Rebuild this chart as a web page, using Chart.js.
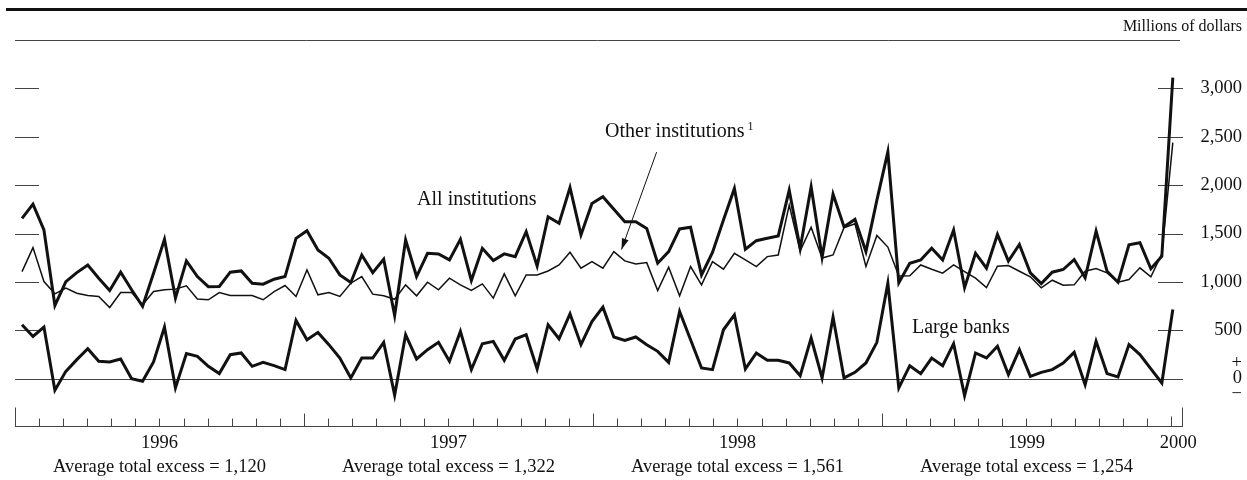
<!DOCTYPE html>
<html>
<head>
<meta charset="utf-8">
<script src="https://cdn.jsdelivr.net/npm/chart.js@4.4.1/dist/chart.umd.min.js"></script>
<style>
	html, body { margin: 0; padding: 0; background: #fff; }
</style>
</head>
<body>
<canvas id="chart" width="1247" height="480"></canvas>
<script>
'use strict'

// Excess reserve balances by two-week maintenance period, Jan 1996 - Jan 2000 (millions of dollars)
const allInstitutions = [
	1657, 1804, 1536, 756, 1003, 1096, 1175, 1038, 911, 1100,
	918, 746, 1090, 1440, 832, 1217, 1055, 950, 952, 1100,
	1113, 986, 976, 1028, 1055, 1450, 1529, 1330, 1244, 1072,
	993, 1278, 1096, 1234, 653, 1433, 1055, 1296, 1289, 1227,
	1440, 1014, 1347, 1220, 1289, 1261, 1519, 1165, 1673, 1605,
	1976, 1485, 1810, 1880, 1750, 1622, 1622, 1553, 1193, 1313,
	1547, 1564, 1072, 1305, 1640, 1966, 1337, 1426, 1450, 1475,
	1949, 1347, 1983, 1254, 1907, 1571, 1646, 1313, 1845, 2344,
	990, 1193, 1227, 1347, 1227, 1536, 941, 1296, 1141, 1490,
	1214, 1386, 1093, 983, 1100, 1128, 1231, 1042, 1524, 1110,
	996, 1383, 1404, 1135, 1265, 3111,
]
const otherInstitutions = [
	1106, 1354, 1003, 876, 935, 883, 859, 849, 735, 890,
	890, 763, 900, 918, 925, 959, 822, 815, 890, 859,
	859, 859, 815, 900, 962, 849, 1124, 866, 890, 849,
	986, 1055, 873, 856, 820, 969, 856, 997, 918, 1038,
	969, 911, 979, 832, 1083, 856, 1072, 1072, 1113, 1175,
	1306, 1141, 1210, 1141, 1313, 1217, 1186, 1199, 911, 1151,
	856, 1158, 969, 1210, 1131, 1296, 1227, 1158, 1261, 1278,
	1794, 1320, 1564, 1247, 1278, 1560, 1600, 1160, 1480, 1360,
	1060, 1062, 1175, 1131, 1090, 1175, 1106, 1038, 940, 1162,
	1169, 1110, 1052, 938, 1017, 965, 969, 1110, 1138, 1093,
	996, 1024, 1145, 1052, 1290, 2440,
]
const largeBanks = [
	557, 436, 533, -120, 75, 196, 309, 179, 172, 203,
	0, -27, 172, 533, -96, 258, 230, 127, 52, 247,
	265, 127, 168, 134, 93, 601, 402, 478, 351, 213,
	7, 213, 213, 375, -170, 454, 203, 299, 375, 179,
	488, 93, 361, 385, 189, 409, 454, 100, 557, 412,
	670, 351, 590, 739, 430, 395, 430, 351, 282, 168,
	694, 402, 110, 93, 505, 660, 100, 265, 189, 189,
	162, 31, 419, 7, 636, 7, 65, 162, 375, 986,
	-96, 134, 52, 213, 134, 361, -175, 265, 214, 334,
	41, 300, 24, 65, 93, 162, 272, -62, 386, 52,
	18, 352, 248, 100, -45, 714,
]

const valueTicks = [0, 500, 1000, 1500, 2000, 2500, 3000]
// year labels sit mid-year on a month axis starting Jan 1996
const yearTicks = [6, 18, 30, 42, 48.3]
const yearLabels = ['1996', '1997', '1998', '1999', '2000']
const yearAverages = ['1,120', '1,322', '1,561', '1,254']

const periods = allInstitutions.map((v, i) => i)
const FONT = '"Liberation Serif", "Times New Roman", serif'

function toPoints(values) {
	return values.map((v, i) => ({ x: periods[i], y: v }))
}

function line(ctx, x1, y1, x2, y2) {
	ctx.beginPath()
	ctx.moveTo(x1, y1)
	ctx.lineTo(x2, y2)
	ctx.stroke()
}

const framePlugin = {
	id: 'frame',
	beforeDatasetsDraw(chart) {
		const { ctx, chartArea: a, scales } = chart
		const y = scales.y
		const m = scales.months
		ctx.save()
		ctx.strokeStyle = '#111'
		ctx.lineWidth = 3
		line(ctx, 6, 9.5, chart.width, 9.5)

		ctx.lineWidth = 1
		ctx.strokeStyle = '#444'
		line(ctx, a.left, a.top + 0.5, a.right - 3, a.top + 0.5)

		const y0 = Math.round(y.getPixelForValue(0)) + 0.5
		line(ctx, a.left, y0, a.right, y0)

		valueTicks.filter(v => v > 0).forEach(v => {
			const py = Math.round(y.getPixelForValue(v)) + 0.5
			line(ctx, a.left, py, a.left + 24, py)
			line(ctx, a.right - 25, py, a.right, py)
		})

		// baseline with monthly ticks, taller at year starts
		const yb = Math.round(a.bottom) - 0.5
		line(ctx, a.left, yb, a.right, yb)
		for (let k = 0; k <= 48; k++) {
			const px = Math.round(m.getPixelForValue(k)) + 0.5
			let len = 8
			if (k === 0) len = 19
			else if (k === 48) len = 10
			else if (k % 12 === 0) len = 13
			line(ctx, px, yb, px, yb - len)
		}
		const pe = Math.round(a.right) - 0.5
		line(ctx, pe, yb, pe, yb - 19)
		ctx.restore()
	},
	afterDatasetsDraw(chart) {
		const { ctx, scales } = chart
		const x = scales.x
		const y = scales.y
		ctx.save()
		ctx.fillStyle = '#111'
		ctx.strokeStyle = '#111'
		ctx.textBaseline = 'alphabetic'

		ctx.font = `20px ${FONT}`
		ctx.textAlign = 'center'
		ctx.fillText('All institutions', x.getPixelForValue(41.5), y.getPixelForValue(1790))

		ctx.textAlign = 'left'
		const ox = x.getPixelForValue(53.2)
		const oy = y.getPixelForValue(2496)
		ctx.fillText('Other institutions', ox, oy)
		const w = ctx.measureText('Other institutions').width
		ctx.fillText('Large banks', x.getPixelForValue(81.2), y.getPixelForValue(473))
		ctx.font = `12px ${FONT}`
		ctx.fillText('1', ox + w + 3, oy - 7)

		// pointer from the label down to the thin line
		const tx = x.getPixelForValue(57.9), ty = y.getPixelForValue(2341)
		const hx = x.getPixelForValue(54.7), hy = y.getPixelForValue(1335)
		ctx.lineWidth = 1
		line(ctx, tx, ty, hx, hy)
		const ang = Math.atan2(hy - ty, hx - tx)
		ctx.beginPath()
		ctx.moveTo(hx, hy)
		ctx.lineTo(hx - 11 * Math.cos(ang) + 3.5 * Math.sin(ang), hy - 11 * Math.sin(ang) - 3.5 * Math.cos(ang))
		ctx.lineTo(hx - 11 * Math.cos(ang) - 3.5 * Math.sin(ang), hy - 11 * Math.sin(ang) + 3.5 * Math.cos(ang))
		ctx.closePath()
		ctx.fill()

		ctx.font = `16px ${FONT}`
		ctx.textAlign = 'right'
		ctx.fillText('Millions of dollars', chart.width - 5, 31)
		ctx.restore()
	},
}

new Chart(document.getElementById('chart'), {
	type: 'line',
	data: {
		datasets: [
			{ label: 'All institutions', data: toPoints(allInstitutions), borderColor: '#111', borderWidth: 3 },
			{ label: 'Large banks', data: toPoints(largeBanks), borderColor: '#111', borderWidth: 3 },
			{ label: 'Other institutions', data: toPoints(otherInstitutions), borderColor: '#111', borderWidth: 1.5 },
		],
	},
	options: {
		responsive: false,
		animation: false,
		devicePixelRatio: 1,
		layout: { padding: { left: 15, right: 5, top: 40, bottom: 0 } },
		plugins: { legend: { display: false }, tooltip: { enabled: false } },
		elements: {
			point: { radius: 0 },
			line: { tension: 0, borderJoinStyle: 'miter', fill: false },
		},
		scales: {
			x: { type: 'linear', display: false, min: -0.64, max: 105.93 },
			months: {
				type: 'linear',
				axis: 'x',
				position: 'bottom',
				min: 0,
				max: 48.5,
				grid: { display: false, drawTicks: false },
				border: { display: false },
				afterBuildTicks: s => { s.ticks = yearTicks.map(value => ({ value })) },
				afterFit: s => { s.height = 53 },
				ticks: {
					autoSkip: false,
					maxRotation: 0,
					padding: 4,
					color: '#111',
					font: { family: FONT, size: 18.5, lineHeight: 1.3 },
					callback: (v, i) => i < yearAverages.length
						? [yearLabels[i], 'Average total excess = ' + yearAverages[i]]
						: yearLabels[i],
				},
			},
			y: {
				position: 'right',
				min: -500,
				max: 3500,
				grid: { display: false, drawTicks: false },
				border: { display: false },
				afterBuildTicks: s => { s.ticks = valueTicks.map(value => ({ value })) },
				afterFit: s => { s.width = 59 },
				ticks: {
					crossAlign: 'far',
					padding: 0,
					color: '#111',
					font: { family: FONT, size: 18.5, lineHeight: 0.84 },
					callback: v => v === 0 ? ['+', '0', '−'] : v.toLocaleString('en-US'),
				},
			},
		},
	},
	plugins: [framePlugin],
})
</script>
</body>
</html>
